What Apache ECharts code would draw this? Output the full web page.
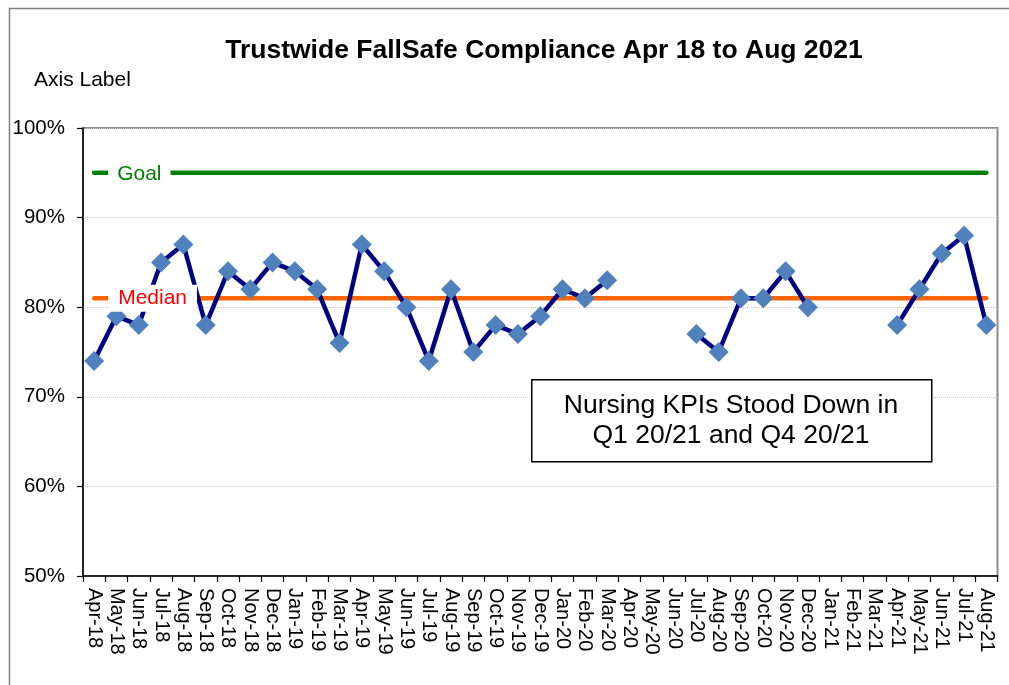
<!DOCTYPE html>
<html>
<head>
<meta charset="utf-8">
<script src="https://cdn.jsdelivr.net/npm/echarts@6/dist/echarts.min.js"></script>
<style>
html,body{margin:0;padding:0;background:#fff;}
#chart{width:1009px;height:685px;}
</style>
</head>
<body>
<div id="chart"></div>
<script>
var categories = ['Apr-18','May-18','Jun-18','Jul-18','Aug-18','Sep-18','Oct-18','Nov-18','Dec-18',
  'Jan-19','Feb-19','Mar-19','Apr-19','May-19','Jun-19','Jul-19','Aug-19','Sep-19','Oct-19','Nov-19','Dec-19',
  'Jan-20','Feb-20','Mar-20','Apr-20','May-20','Jun-20','Jul-20','Aug-20','Sep-20','Oct-20','Nov-20','Dec-20',
  'Jan-21','Feb-21','Mar-21','Apr-21','May-21','Jun-21','Jul-21','Aug-21'];
var compliance = [74,79,78,85,87,78,84,82,85,
  84,82,76,87,84,80,74,82,75,78,77,79,
  82,81,83,null,null,null,77,75,81,81,84,80,
  null,null,null,78,82,86,88,78];
var goalValue = 95;
var medianValue = 81;
var yTicks = [50,60,70,80,90,100];
var titleText = 'Trustwide FallSafe Compliance Apr 18 to Aug 2021';
var axisLabelText = 'Axis Label';
var noteLines = ['Nursing KPIs Stood Down in', 'Q1 20/21 and Q4 20/21'];

var goalData = categories.map(function(){ return goalValue; });
var medianData = categories.map(function(){ return medianValue; });

var FONT = '"Liberation Sans", Arial, sans-serif';
var chart = echarts.init(document.getElementById('chart'), null, {renderer:'canvas'});

var option = {
  animation: false,
  backgroundColor: '#ffffff',
  grid: {left: 83, right: 11.5, top: 128, bottom: 109, show: true, borderColor: '#8c8c8c', borderWidth: 2, backgroundColor: 'transparent'},
  xAxis: {
    type: 'category', data: categories, boundaryGap: true,
    axisLine: {lineStyle: {color: '#000', width: 1.5}},
    axisTick: {show: true, length: 6, inside: false, alignWithLabel: false, lineStyle: {color: '#000', width: 1.2}},
    axisLabel: {rotate: -90, margin: 12, fontSize: 20, color: '#000', fontFamily: FONT, interval: 0},
    splitLine: {show: false}
  },
  yAxis: {
    type: 'value', min: yTicks[0], max: yTicks[yTicks.length-1], interval: 10,
    axisLine: {show: true, lineStyle: {color: '#000', width: 1.5}},
    axisTick: {show: true, length: 6, lineStyle: {color: '#000', width: 1.2}},
    axisLabel: {margin: 18, fontSize: 20.5, color: '#000', fontFamily: FONT, formatter: function(v){ return v + '%'; }},
    splitLine: {show: true, lineStyle: {color: '#c8c8c8', type: 'dotted', width: 1}}
  },
  series: [
    {name: 'Goal', type: 'line', data: goalData, symbol: 'none', z: 1,
      lineStyle: {color: '#008000', width: 4.5, cap: 'round'}},
    {name: 'Median', type: 'line', data: medianData, symbol: 'none', z: 1,
      lineStyle: {color: '#ff6600', width: 4.5, cap: 'round'}},
    {name: 'Compliance', type: 'line', data: compliance, connectNulls: false, z: 3,
      symbol: 'diamond', symbolSize: 20, showAllSymbol: true,
      itemStyle: {color: '#4f81bd'},
      lineStyle: {color: '#000080', width: 4.5, join: 'round'}}
  ]
};
chart.setOption(option);

function buildGraphics() {
  var g0 = chart.convertToPixel({gridIndex: 0}, [0, goalValue]);
  var m0 = chart.convertToPixel({gridIndex: 0}, [0, medianValue]);
  var graphics = [
    {type: 'rect', left: 7, top: 6, z: 0, silent: true,
      shape: {width: 1015, height: 700}, style: {fill: 'none', stroke: '#7f7f7f', lineWidth: 1.5}},
    {type: 'text', x: 544, y: 51, z: 20,
      style: {text: titleText, font: 'bold 26.5px ' + FONT, fill: '#000', textAlign: 'center', textVerticalAlign: 'middle'}},
    {type: 'text', x: 34, y: 80, z: 20,
      style: {text: axisLabelText, font: '21px ' + FONT, fill: '#000', textAlign: 'left', textVerticalAlign: 'middle'}},
    {type: 'text', x: g0[0] + 14, y: g0[1] + 1, z: 20,
      style: {text: 'Goal', font: '21px ' + FONT, fill: '#008000', textAlign: 'left', textVerticalAlign: 'middle',
        backgroundColor: '#fff', padding: [3, 9, 3, 9]}},
    {type: 'text', x: m0[0] + 14, y: m0[1], z: 20,
      style: {text: 'Median', font: '21px ' + FONT, fill: '#ff0000', textAlign: 'left', textVerticalAlign: 'middle',
        backgroundColor: '#fff', padding: [3, 10, 3, 10]}},
    {type: 'rect', left: 531, top: 379, z: 20,
      shape: {width: 400, height: 82}, style: {fill: '#fff', stroke: '#000', lineWidth: 1.5}},
    {type: 'text', x: 731, y: 421, z: 21,
      style: {text: noteLines.join('\n'), font: '26.5px ' + FONT, lineHeight: 30, fill: '#000', textAlign: 'center', textVerticalAlign: 'middle'}}
  ];
  chart.setOption({graphic: graphics});
}
buildGraphics();
</script>
</body>
</html>
